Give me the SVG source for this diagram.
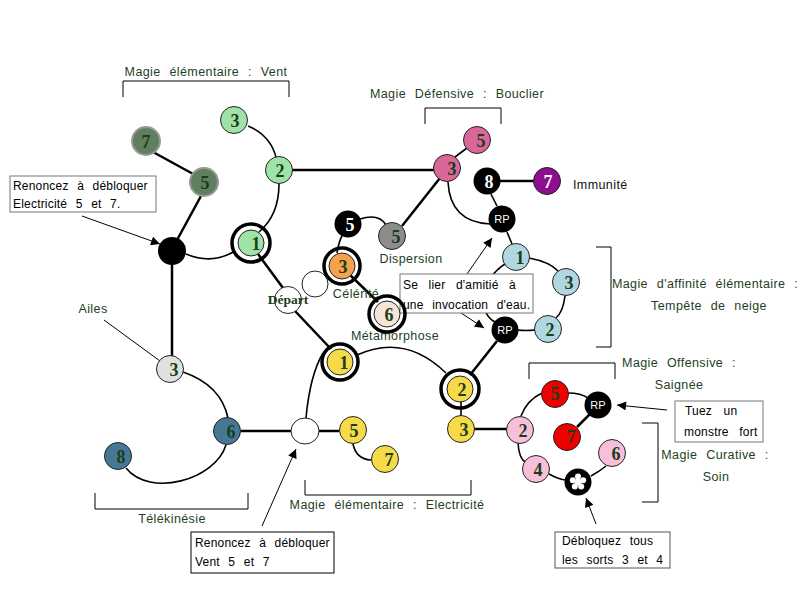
<svg xmlns="http://www.w3.org/2000/svg" width="800" height="600" viewBox="0 0 800 600">
<style>
.lbl{font-family:"Liberation Sans",Arial,sans-serif;font-size:12.5px;fill:#1e3e1e;word-spacing:5px;letter-spacing:0.4px}
.box{fill:#fff;stroke:#777;stroke-width:1}
.bt{font-family:"Liberation Sans",Arial,sans-serif;font-size:12px;fill:#000;word-spacing:5px;letter-spacing:0.2px}
.num{font-family:"Liberation Serif","Times New Roman",serif;font-weight:bold;font-size:18px;fill:#1a3d1a;text-anchor:middle}
.wn{font-family:"Liberation Serif","Times New Roman",serif;font-weight:bold;font-size:18px;fill:#fff;text-anchor:middle}
.rp{font-family:"Liberation Sans",Arial,sans-serif;font-size:11px;fill:#fff;text-anchor:middle}
.n{stroke:#222;stroke-width:1}
.ring{fill:none;stroke:#000;stroke-width:3.5}
.c{fill:none;stroke:#000;stroke-width:1.6}
.t{fill:none;stroke:#000;stroke-width:2.5}
.br{fill:none;stroke:#000;stroke-width:1}
.ar{fill:none;stroke:#000;stroke-width:1;marker-end:url(#ah)}
</style>
<defs>
<marker id="ah" viewBox="0 0 10 10" refX="10" refY="5" markerWidth="12" markerHeight="9" markerUnits="userSpaceOnUse" orient="auto"><path d="M0,0 L10,5 L0,10 z" fill="#000"/></marker>
</defs>
<rect width="800" height="600" fill="#fff"/>

<g id="connectors">
<path class="c" d="M248,126 Q270,135 276,157"/>
<path class="c" d="M279,184 Q279,215 259,232"/>
<path class="t" d="M292,170 L434,170"/>
<path class="t" d="M402,226 L440,178"/>
<path class="t" d="M153,152 L195,175"/>
<path class="t" d="M201,196 L177,240"/>
<path class="c" d="M186,254 Q212,265 235,251"/>
<path class="t" d="M172,265 L172,356"/>
<path class="t" d="M258,254 L283,288"/>
<path class="t" d="M295,311 L331,349"/>
<path class="c" d="M183,372 Q221,385 228,418"/>
<path class="c" d="M226,445 C215,480 150,498 126,468"/>
<path class="t" d="M241,431 L291,431"/>
<path class="c" d="M306,418 Q310,375 323,353"/>
<path class="t" d="M319,431 L339,431"/>
<path class="c" d="M353,444 Q356,459 371,460"/>
<path class="c" d="M357,355 Q405,333 446,373"/>
<path class="c" d="M461,401 L461,416"/>
<path class="t" d="M474,429 L507,429"/>
<path class="t" d="M470,375 L497,341"/>
<path class="c" d="M337,253 Q339,241 342,236"/>
<path class="c" d="M360,219 Q379,213 386,225"/>
<path class="t" d="M350,275 L378,302"/>
<path class="c" d="M455,157 L467,148"/>
<path class="c" d="M448,182 Q450,222 490,224"/>
<path class="t" d="M500,181 L534,181"/>
<path class="c" d="M491,194 L497,206"/>
<path class="c" d="M507,232 L512,244"/>
<path class="c" d="M529,258 Q550,262 558,271"/>
<path class="c" d="M565,296 Q563,312 556,318"/>
<path class="c" d="M535,330 Q525,331 518,330"/>
<path class="c" d="M505,264 C482,278 476,312 495,322"/>
<path class="c" d="M521,416 Q527,400 542,393"/>
<path class="c" d="M568,393 Q581,393 588,398"/>
<path class="t" d="M590,414 L577,427"/>
<path class="c" d="M518,443 Q519,458 525,462"/>
<path class="c" d="M549,474 Q558,479 565,480"/>
<path class="c" d="M591,476 Q600,471 606,466"/>
<path class="ar" d="M82,216 L160,244"/>
<path class="ar" d="M467,274 L492,238"/>
<path class="ar" d="M461,313 L484,328"/>
<path class="ar" d="M667,410 L617,405"/>
<path class="ar" d="M596,524 L586,498"/>
<path class="ar" d="M262,526 L296,449"/>
<path fill="none" stroke="#000" stroke-width="1" d="M104,320 L160,361"/>
</g>

<g id="brackets">
<path class="br" d="M123,97 L123,81 L289,81 L289,97"/>
<path class="br" d="M425,124 L425,108 L501,108 L501,124"/>
<path class="br" d="M596,247 L611,247 L611,347 L596,347"/>
<path class="br" d="M529,379 L529,363 L615,363 L615,379"/>
<path class="br" d="M642,423 L658,423 L658,502 L642,502"/>
<path class="br" d="M95,493 L95,509 L248,509 L248,493"/>
<path class="br" d="M305,480 L305,495 L471,495 L471,480"/>
</g>

<g id="labels">
<text class="lbl" x="206" y="76" text-anchor="middle">Magie élémentaire : Vent</text>
<text class="lbl" x="457" y="98" text-anchor="middle">Magie Défensive : Bouclier</text>
<text class="lbl" x="573" y="189" style="fill:#111">Immunité</text>
<text class="lbl" x="411" y="263" text-anchor="middle">Dispersion</text>
<text class="lbl" x="356" y="298" text-anchor="middle">Célérité</text>
<text class="lbl" x="395" y="340" text-anchor="middle">Métamorphose</text>
<text class="lbl" x="93" y="313" text-anchor="middle">Ailes</text>
<text class="lbl" x="705" y="288" text-anchor="middle">Magie d'affinité élémentaire :</text>
<text class="lbl" x="709" y="310" text-anchor="middle">Tempête de neige</text>
<text class="lbl" x="679" y="367" text-anchor="middle">Magie Offensive :</text>
<text class="lbl" x="679" y="389" text-anchor="middle">Saignée</text>
<text class="lbl" x="715" y="459" text-anchor="middle">Magie Curative :</text>
<text class="lbl" x="716" y="481" text-anchor="middle">Soin</text>
<text class="lbl" x="172" y="523" text-anchor="middle">Télékinésie</text>
<text class="lbl" x="387" y="509" text-anchor="middle">Magie élémentaire : Electricité</text>
</g>

<g id="box-electricite">
<rect class="box" x="10" y="176" width="146" height="36"/>
<text class="bt" x="13" y="190">Renoncez à débloquer</text>
<text class="bt" x="13" y="208">Electricité 5 et 7.</text>
</g>
<g id="box-eau">
<rect class="box" x="400" y="274" width="133" height="39"/>
<text class="bt" x="403" y="289" style="word-spacing:7px">Se lier d'amitié à</text>
<text class="bt" x="403" y="309">une invocation d'eau.</text>
</g>
<g id="box-monstre">
<rect class="box" x="675" y="401" width="88" height="41"/>
<text class="bt" x="685" y="415" style="word-spacing:8px">Tuez un</text>
<text class="bt" x="684" y="436" style="word-spacing:7px">monstre fort</text>
</g>
<g id="box-sorts">
<rect class="box" x="555" y="532" width="115" height="36" style="stroke:#555"/>
<text class="bt" x="562" y="545">Débloquez tous</text>
<text class="bt" x="562" y="564">les sorts 3 et 4</text>
</g>
<g id="box-vent">
<rect class="box" x="191" y="532" width="143" height="41" style="stroke:#000"/>
<text class="bt" x="195" y="547">Renoncez à débloquer</text>
<text class="bt" x="195" y="566">Vent 5 et 7</text>
</g>

<g id="vent-3"><circle class="n" cx="234" cy="120" r="13.5" fill="#9fe3a6"/><text class="num" x="235" y="127">3</text></g>
<g id="vent-2"><circle class="n" cx="279" cy="170" r="13.5" fill="#9fe3a6"/><text class="num" x="280" y="177">2</text></g>
<g id="vent-1"><circle class="ring" cx="251" cy="243" r="19"/><circle class="n" cx="251" cy="243" r="13" fill="#9fe3a6"/><text class="num" x="256" y="250">1</text></g>
<g id="vent-7"><circle cx="146" cy="141" r="14" fill="#5f7f5f" stroke="#999" stroke-width="2"/><text class="num" x="146" y="148">7</text></g>
<g id="vent-5"><circle cx="204" cy="182" r="14" fill="#5f7f5f" stroke="#999" stroke-width="2"/><text class="num" x="205" y="189">5</text></g>
<g id="noeud-noir"><circle cx="172" cy="251" r="14" fill="#000"/></g>
<g id="ailes-3"><circle class="n" cx="170" cy="369" r="13.5" fill="#e0e0e0"/><text class="num" x="174" y="376">3</text></g>
<g id="tele-6"><circle class="n" cx="227" cy="431" r="13.5" fill="#467896"/><text class="num" x="231" y="438">6</text></g>
<g id="tele-8"><circle class="n" cx="118" cy="456" r="13.5" fill="#467896"/><text class="num" x="121" y="463">8</text></g>
<g id="noeud-blanc"><ellipse class="n" cx="305" cy="431" rx="14" ry="13" fill="#fff"/></g>
<g id="elec-5"><circle class="n" cx="353" cy="430" r="13.5" fill="#f7da4a"/><text class="num" x="354" y="437">5</text></g>
<g id="elec-7"><circle class="n" cx="385" cy="459" r="13.5" fill="#f7da4a"/><text class="num" x="389" y="466">7</text></g>
<g id="elec-1"><circle class="ring" cx="340" cy="362" r="18"/><circle class="n" cx="340" cy="362" r="13" fill="#f7da4a"/><text class="num" x="344" y="369">1</text></g>
<g id="elec-2"><circle class="ring" cx="460" cy="389" r="19"/><circle class="n" cx="460" cy="389" r="13" fill="#f7da4a"/><text class="num" x="462" y="396">2</text></g>
<g id="elec-3"><circle class="n" cx="461" cy="429" r="13.5" fill="#f7da4a"/><text class="num" x="464" y="436">3</text></g>
<g id="vide"><circle class="n" cx="315" cy="284" r="13" fill="#fff"/></g>
<g id="depart"><circle class="n" cx="288" cy="300" r="13.5" fill="#fff"/><text x="288" y="304" text-anchor="middle" style="font-family:'Liberation Serif',serif;font-weight:bold;font-size:13.5px;fill:#1a3d1a">Départ</text></g>
<g id="celerite-3"><circle class="ring" cx="342" cy="266" r="18"/><circle class="n" cx="342" cy="266" r="13" fill="#f5a24f"/><text class="num" x="343" y="273">3</text></g>
<g id="noir-5"><circle cx="348" cy="224" r="13.5" fill="#000"/><text class="wn" x="350" y="231">5</text></g>
<g id="dispersion-5"><circle class="n" cx="392" cy="236" r="13.5" fill="#8c8c8c"/><text class="num" x="396" y="243">5</text></g>
<g id="meta-6"><circle class="ring" cx="387" cy="314" r="18"/><circle class="n" cx="387" cy="314" r="13" fill="#f6e4d6"/><text class="num" x="389" y="321">6</text></g>
<g id="bouclier-3"><circle class="n" cx="447" cy="168" r="13.5" fill="#d9679a"/><text class="num" x="452" y="175">3</text></g>
<g id="bouclier-5"><circle class="n" cx="477" cy="140" r="13.5" fill="#d9679a"/><text class="num" x="481" y="147">5</text></g>
<g id="noir-8"><circle cx="487" cy="181" r="13.5" fill="#000"/><text class="wn" x="489" y="188">8</text></g>
<g id="immunite-7"><circle class="n" cx="547" cy="181" r="13.5" fill="#8e0f8e"/><text class="wn" x="548" y="188">7</text></g>
<g id="rp-1"><circle cx="502" cy="219" r="13.5" fill="#000"/><text class="rp" x="502" y="223">RP</text></g>
<g id="neige-1"><circle class="n" cx="516" cy="257" r="13.5" fill="#b0d6e0"/><text class="num" x="520" y="264">1</text></g>
<g id="neige-3"><circle class="n" cx="566" cy="282" r="13.5" fill="#b0d6e0"/><text class="num" x="569" y="289">3</text></g>
<g id="neige-2"><circle class="n" cx="548" cy="329" r="13.5" fill="#b0d6e0"/><text class="num" x="550" y="336">2</text></g>
<g id="rp-2"><circle cx="505" cy="330" r="13.5" fill="#000"/><text class="rp" x="505" y="334">RP</text></g>
<g id="saignee-5"><circle class="n" cx="555" cy="394" r="13.5" fill="#ee0000"/><text class="num" x="555" y="400">5</text></g>
<g id="rp-3"><circle cx="598" cy="405" r="13.5" fill="#000"/><text class="rp" x="598" y="409">RP</text></g>
<g id="saignee-7"><circle class="n" cx="567" cy="437" r="13.5" fill="#ee0000"/><text class="num" x="571" y="443">7</text></g>
<g id="soin-2"><circle class="n" cx="520" cy="430" r="13.5" fill="#f7bfd9"/><text class="num" x="523" y="437">2</text></g>
<g id="soin-4"><circle class="n" cx="536" cy="469" r="13.5" fill="#f7bfd9"/><text class="num" x="538" y="476">4</text></g>
<g id="soin-etoile"><circle cx="578" cy="482" r="13.5" fill="#000"/>
<g fill="#fff"><circle cx="578" cy="476.5" r="3"/><circle cx="583.2" cy="480.3" r="3"/><circle cx="581.2" cy="486.4" r="3"/><circle cx="574.8" cy="486.4" r="3"/><circle cx="572.8" cy="480.3" r="3"/><circle cx="578" cy="482" r="3.5"/></g></g>
<g id="soin-6"><circle class="n" cx="612" cy="453" r="13.5" fill="#f7bfd9"/><text class="num" x="616" y="460">6</text></g>
</svg>
